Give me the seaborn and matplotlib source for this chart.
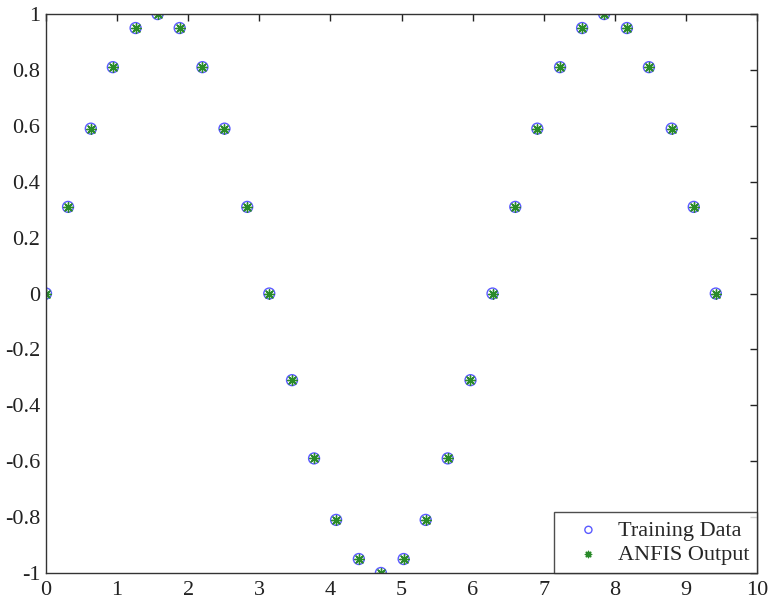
import matplotlib
matplotlib.use("Agg")
import matplotlib.pyplot as plt
import seaborn as sns

# Data
x_vals = [0.0, 0.31, 0.63, 0.94, 1.26, 1.57, 1.88, 2.2, 2.51, 2.83, 3.14,
          3.46, 3.77, 4.08, 4.4, 4.71, 5.03, 5.34, 5.65, 5.97, 6.28,
          6.6, 6.91, 7.23, 7.54, 7.85, 8.17, 8.48, 8.8, 9.11, 9.42]
training = [0.0, 0.31, 0.59, 0.81, 0.95, 1.0, 0.95, 0.81, 0.59, 0.31, 0.0,
            -0.31, -0.59, -0.81, -0.95, -1.0, -0.95, -0.81, -0.59, -0.31, 0.0,
            0.31, 0.59, 0.81, 0.95, 1.0, 0.95, 0.81, 0.59, 0.31, 0.0]
anfis = [0.0, 0.31, 0.59, 0.81, 0.95, 1.0, 0.95, 0.81, 0.59, 0.31, 0.0,
         -0.31, -0.59, -0.81, -0.95, -1.0, -0.95, -0.81, -0.59, -0.31, 0.0,
         0.31, 0.59, 0.81, 0.95, 1.0, 0.95, 0.81, 0.59, 0.31, 0.0]
x_ticks = [0, 1, 2, 3, 4, 5, 6, 7, 8, 9, 10]
y_ticks = [-1, -0.8, -0.6, -0.4, -0.2, 0, 0.2, 0.4, 0.6, 0.8, 1]
y_labels = ["-1", "-0.8", "-0.6", "-0.4", "-0.2", "0", "0.2", "0.4", "0.6", "0.8", "1"]

sns.set_style("white")
plt.rcParams["font.family"] = ["Liberation Serif", "DejaVu Serif"]

fig = plt.figure(figsize=(7.72, 6.01), dpi=100)
ax = fig.add_axes([0.0596, 0.0466, 0.921, 0.930])

sns.scatterplot(x=x_vals, y=training, ax=ax, marker="o", s=62,
                facecolor="none", edgecolor="#5a5aff", linewidth=1.0,
                label="Training Data")
sns.scatterplot(x=x_vals, y=anfis, ax=ax, marker=(8, 2, 0), s=48,
                color="#2a8a2a", linewidth=1.0, label="ANFIS Output")

ax.set_xlim(0, 10)
ax.set_ylim(-1, 1)
ax.set_xticks(x_ticks)
ax.set_yticks(y_ticks)
ax.set_yticklabels(y_labels)
ax.tick_params(direction="in", top=True, right=True, length=5, width=1,
               labelsize=16, colors="#222222", pad=4)
ax.tick_params(axis="x", pad=6)
for sp in ax.spines.values():
    sp.set_color("#333333")
    sp.set_linewidth(1.0)

leg = ax.legend(loc="lower right", fontsize=16, frameon=True, fancybox=False,
                edgecolor="#222222", borderaxespad=0, handlelength=2.34,
                handletextpad=0.14, labelspacing=0.17, borderpad=0.36,
                markerscale=0.65)
leg.get_frame().set_linewidth(1.0)

fig.savefig("out.png", dpi=100)
